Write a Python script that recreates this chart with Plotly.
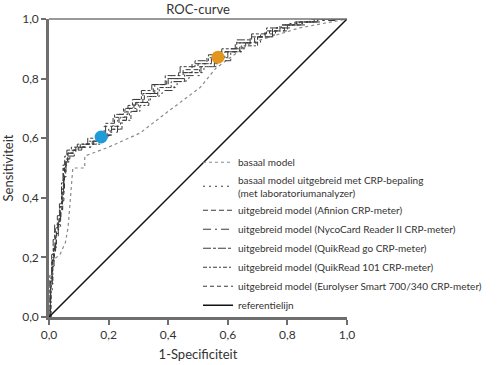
import plotly.graph_objects as go

# ---- data ----
fpr_bas = [0, 0.005, 0.013, 0.037, 0.055, 0.064, 0.072, 0.077, 0.080, 0.120, 0.120, 0.200, 0.305, 0.400, 0.507, 0.560, 0.670, 0.710, 0.840, 1.0]
tpr_bas = [0, 0.05, 0.19, 0.21, 0.25, 0.30, 0.40, 0.47, 0.50, 0.50, 0.54, 0.57, 0.617, 0.69, 0.77, 0.835, 0.915, 0.93, 0.97, 1.0]

fpr_lab = [0, 0.005, 0.010, 0.015, 0.020, 0.030, 0.037, 0.045, 0.048, 0.055, 0.062, 0.080, 0.100, 0.140, 0.175, 0.200, 0.240, 0.270, 0.300, 0.330, 0.370, 0.430, 0.470, 0.520, 0.567, 0.600, 0.650, 0.710, 0.760, 0.800, 0.850, 0.900, 0.950, 1.0]
tpr_lab = [0, 0.10, 0.19, 0.22, 0.29, 0.31, 0.37, 0.40, 0.49, 0.52, 0.55, 0.56, 0.57, 0.58, 0.60, 0.63, 0.67, 0.70, 0.72, 0.74, 0.77, 0.80, 0.82, 0.85, 0.87, 0.89, 0.92, 0.95, 0.97, 0.985, 0.99, 0.995, 1.0, 1.0]

fpr_afi = [0, 0.004, 0.012, 0.018, 0.025, 0.033, 0.040, 0.046, 0.052, 0.058, 0.070, 0.090, 0.120, 0.150, 0.180, 0.210, 0.235, 0.265, 0.290, 0.320, 0.355, 0.400, 0.450, 0.500, 0.545, 0.590, 0.640, 0.690, 0.740, 0.790, 0.840, 0.880, 0.930, 1.0]
tpr_afi = [0, 0.13, 0.20, 0.24, 0.30, 0.33, 0.36, 0.42, 0.50, 0.53, 0.55, 0.57, 0.58, 0.59, 0.61, 0.64, 0.68, 0.71, 0.73, 0.75, 0.78, 0.80, 0.83, 0.85, 0.87, 0.89, 0.92, 0.94, 0.96, 0.98, 0.99, 1.0, 1.0, 1.0]

fpr_nyc = [0, 0.006, 0.011, 0.017, 0.022, 0.031, 0.039, 0.044, 0.050, 0.057, 0.066, 0.085, 0.110, 0.145, 0.170, 0.195, 0.230, 0.260, 0.295, 0.340, 0.380, 0.420, 0.460, 0.510, 0.555, 0.610, 0.660, 0.700, 0.750, 0.810, 0.860, 0.910, 0.960, 1.0]
tpr_nyc = [0, 0.09, 0.17, 0.21, 0.27, 0.30, 0.35, 0.39, 0.47, 0.51, 0.54, 0.56, 0.57, 0.59, 0.60, 0.62, 0.66, 0.69, 0.72, 0.75, 0.76, 0.79, 0.81, 0.84, 0.86, 0.90, 0.92, 0.94, 0.97, 0.98, 0.99, 0.995, 1.0, 1.0]

fpr_qgo = [0, 0.003, 0.009, 0.014, 0.019, 0.028, 0.035, 0.042, 0.047, 0.053, 0.060, 0.075, 0.095, 0.130, 0.165, 0.190, 0.220, 0.250, 0.280, 0.310, 0.345, 0.390, 0.440, 0.490, 0.535, 0.580, 0.630, 0.680, 0.730, 0.780, 0.830, 0.890, 0.940, 1.0]
tpr_qgo = [0, 0.14, 0.21, 0.26, 0.31, 0.34, 0.38, 0.45, 0.51, 0.54, 0.56, 0.57, 0.58, 0.60, 0.61, 0.65, 0.68, 0.70, 0.73, 0.76, 0.78, 0.81, 0.84, 0.86, 0.88, 0.90, 0.93, 0.95, 0.97, 0.98, 0.99, 1.0, 1.0, 1.0]

fpr_q101 = [0, 0.007, 0.013, 0.016, 0.024, 0.032, 0.038, 0.043, 0.049, 0.056, 0.064, 0.082, 0.105, 0.135, 0.170, 0.205, 0.245, 0.275, 0.305, 0.335, 0.365, 0.410, 0.455, 0.505, 0.560, 0.600, 0.645, 0.700, 0.755, 0.800, 0.850, 0.900, 0.950, 1.0]
tpr_q101 = [0, 0.11, 0.18, 0.23, 0.28, 0.32, 0.36, 0.41, 0.48, 0.52, 0.55, 0.56, 0.58, 0.59, 0.61, 0.63, 0.66, 0.69, 0.71, 0.74, 0.77, 0.79, 0.82, 0.84, 0.87, 0.89, 0.91, 0.94, 0.96, 0.98, 0.99, 1.0, 1.0, 1.0]

fpr_eur = [0, 0.005, 0.010, 0.016, 0.021, 0.029, 0.036, 0.044, 0.049, 0.054, 0.063, 0.078, 0.098, 0.125, 0.160, 0.185, 0.215, 0.255, 0.285, 0.315, 0.350, 0.395, 0.435, 0.480, 0.530, 0.575, 0.625, 0.675, 0.725, 0.775, 0.825, 0.875, 0.925, 1.0]
tpr_eur = [0, 0.12, 0.20, 0.23, 0.30, 0.32, 0.37, 0.43, 0.50, 0.53, 0.55, 0.56, 0.57, 0.58, 0.60, 0.64, 0.67, 0.70, 0.72, 0.75, 0.78, 0.80, 0.82, 0.85, 0.87, 0.89, 0.92, 0.94, 0.96, 0.98, 0.99, 1.0, 1.0, 1.0]

ref_x = [0, 1]
ref_y = [0, 1]

point_blue = ([0.175], [0.604])
point_orange = ([0.567], [0.872])

tick_vals = [0, 0.2, 0.4, 0.6, 0.8, 1.0]

names = [
    "basaal model",
    "basaal model uitgebreid met CRP-bepaling<br>(met laboratoriumanalyzer)",
    "uitgebreid model (Afinion CRP-meter)",
    "uitgebreid model (NycoCard Reader II CRP-meter)",
    "uitgebreid model (QuikRead go CRP-meter)",
    "uitgebreid model (QuikRead 101 CRP-meter)",
    "uitgebreid model (Eurolyser Smart 700/340 CRP-meter)",
    "referentielijn",
]

FONT = "Lato"
fig = go.Figure()

fig.add_trace(go.Scatter(x=fpr_bas, y=tpr_bas, mode="lines", name=names[0],
                         line=dict(color="#8a8a8a", width=1.2, dash="dot")))
curves = [
    (fpr_lab, tpr_lab, names[1], "2px,4px"),
    (fpr_afi, tpr_afi, names[2], "5px,3px"),
    (fpr_nyc, tpr_nyc, names[3], "8px,4px,2px,4px"),
    (fpr_qgo, tpr_qgo, names[4], "8px,2px,3px,2px"),
    (fpr_q101, tpr_q101, names[5], "4px,2px,2px,2px"),
    (fpr_eur, tpr_eur, names[6], "4px,3px"),
]
for fx, ty, nm, ds in curves:
    fig.add_trace(go.Scatter(x=fx, y=ty, mode="lines", name=nm, line_shape="hv",
                             line=dict(color="#3a3a3a", width=1, dash=ds)))
fig.add_trace(go.Scatter(x=ref_x, y=ref_y, mode="lines", name=names[7],
                         line=dict(color="#111111", width=1.5)))

fig.add_trace(go.Scatter(x=point_blue[0], y=point_blue[1], mode="markers", showlegend=False,
                         marker=dict(color="#1f9bd7", size=13), cliponaxis=False))
fig.add_trace(go.Scatter(x=point_orange[0], y=point_orange[1], mode="markers", showlegend=False,
                         marker=dict(color="#e3961f", size=13), cliponaxis=False))

fig.add_shape(type="line", xref="paper", yref="paper", x0=0, x1=1, y0=1, y1=1,
              line=dict(color="#777777", width=1.5))

axis_common = dict(range=[0, 1], tickvals=tick_vals, tickformat=".1f",
                   showgrid=False, zeroline=False, showline=True,
                   linecolor="#6e6e6e", linewidth=2.5, ticks="outside",
                   ticklen=5, tickwidth=1.5, tickcolor="#6e6e6e", automargin=False,
                   tickfont=dict(size=12, color="#333333", family=FONT))

fig.update_layout(
    width=500, height=365,
    margin=dict(l=49, r=153, t=19, b=48, autoexpand=False),
    paper_bgcolor="white", plot_bgcolor="white",
    separators=",.",
    font=dict(family=FONT, color="#333333"),
    title=dict(text="ROC-curve", x=198 / 500, xanchor="center", y=0.975, yanchor="middle",
               font=dict(size=13, color="#333333", family=FONT)),
    xaxis=dict(axis_common, title=dict(text="1-Specificiteit", font=dict(size=13), standoff=9)),
    yaxis=dict(axis_common, title=dict(text="Sensitiviteit", font=dict(size=13), standoff=8)),
    legend=dict(x=0.5, y=0.568, xanchor="left", yanchor="top", bgcolor="rgba(0,0,0,0)",
                font=dict(size=10, color="#333333", family=FONT),
                itemwidth=30, tracegroupgap=0),
    showlegend=True,
)

fig.write_html("out.html", config={"displayModeBar": False},
               post_script="document.body.style.margin='0';")
